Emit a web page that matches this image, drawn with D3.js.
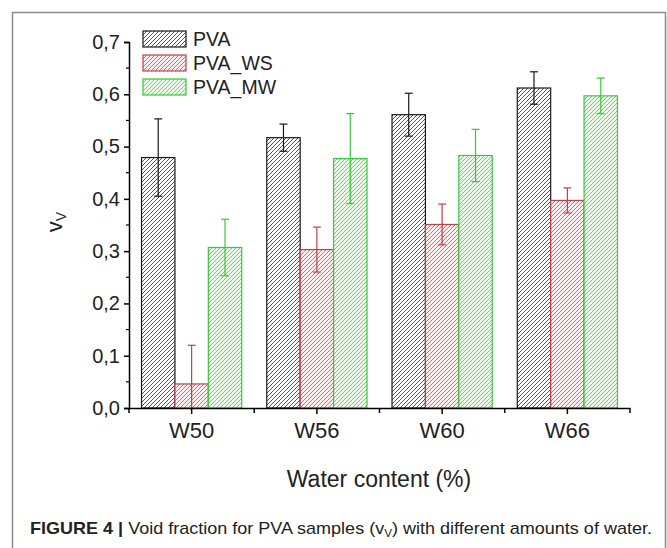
<!DOCTYPE html>
<html>
<head>
<meta charset="utf-8">
<style>
  body { margin: 0; background: #fff; }
  svg { display: block; font-family: "Liberation Sans", Arial, sans-serif; }
</style>
</head>
<body>
<div id="chart"></div>
<script src="https://cdn.jsdelivr.net/npm/d3@7"></script>
<script>
// data
var categories = ["W50", "W56", "W60", "W66"];
var series = ["PVA", "PVA_WS", "PVA_MW"];
var pvaValues = [0.479, 0.517, 0.561, 0.612];
var pvaErrors = [0.074, 0.026, 0.041, 0.031];
var wsValues = [0.046, 0.303, 0.351, 0.397];
var wsErrors = [0.074, 0.043, 0.039, 0.024];
var mwValues = [0.307, 0.477, 0.483, 0.597];
var mwErrors = [0.054, 0.086, 0.050, 0.034];
var yTicks = [0, 0.1, 0.2, 0.3, 0.4, 0.5, 0.6, 0.7];

var W = 667, H = 548;
var svg = d3.select("#chart").append("svg").attr("width", W).attr("height", H);

// outer frame of the figure
svg.append("rect").attr("x", 12.5).attr("y", 12.5).attr("width", 653).attr("height", 560)
  .attr("fill", "none").attr("stroke", "#8a8a8a").attr("stroke-width", 1.5);

var styles = {
  "PVA":    { line: "#2a2a2a", bg: "#ffffff", edge: "#1a1a1a" },
  "PVA_WS": { line: "#c9505c", bg: "#fbeeee", edge: "#d03848" },
  "PVA_MW": { line: "#5cc05c", bg: "#eaf8e8", edge: "#33cc33" }
};

// hatch patterns
var defs = svg.append("defs");
series.forEach(function (s, i) {
  var p = defs.append("pattern").attr("id", "hatch" + i)
    .attr("patternUnits", "userSpaceOnUse").attr("width", 4).attr("height", 4);
  p.append("rect").attr("width", 4).attr("height", 4).attr("fill", styles[s].bg);
  p.append("path").attr("d", "M-1,1 l2,-2 M0,4 l4,-4 M3,5 l2,-2")
    .attr("stroke", styles[s].line).attr("stroke-width", 0.8);
});

var x0 = d3.scaleBand().domain(categories).range([129, 630]).paddingInner(0.2).paddingOuter(0.1);
var x1 = d3.scaleBand().domain(series).range([0, x0.bandwidth()]);
var y = d3.scaleLinear().domain([0, 0.7]).range([408, 42]);

var rows = [];
categories.forEach(function (c, i) {
  rows.push({ cat: c, s: "PVA", v: pvaValues[i], e: pvaErrors[i] });
  rows.push({ cat: c, s: "PVA_WS", v: wsValues[i], e: wsErrors[i] });
  rows.push({ cat: c, s: "PVA_MW", v: mwValues[i], e: mwErrors[i] });
});

// bars
svg.append("g").selectAll("rect").data(rows).enter().append("rect")
  .attr("x", function (d) { return x0(d.cat) + x1(d.s); })
  .attr("y", function (d) { return y(d.v); })
  .attr("width", x1.bandwidth())
  .attr("height", function (d) { return y(0) - y(d.v); })
  .attr("fill", function (d) { return "url(#hatch" + series.indexOf(d.s) + ")"; })
  .attr("stroke", function (d) { return styles[d.s].edge; })
  .attr("stroke-width", 1.2);

// error bars
var eb = svg.append("g").selectAll("g").data(rows).enter().append("g")
  .attr("stroke", function (d) { return styles[d.s].edge; })
  .attr("stroke-width", 1.2);
function cx(d) { return x0(d.cat) + x1(d.s) + x1.bandwidth() / 2; }
eb.append("line")
  .attr("x1", cx).attr("x2", cx)
  .attr("y1", function (d) { return y(d.v + d.e); })
  .attr("y2", function (d) { return y(Math.max(0, d.v - d.e)); });
eb.append("line")
  .attr("x1", function (d) { return cx(d) - 4; }).attr("x2", function (d) { return cx(d) + 4; })
  .attr("y1", function (d) { return y(d.v + d.e); }).attr("y2", function (d) { return y(d.v + d.e); });
eb.filter(function (d) { return d.v - d.e > 0; }).append("line")
  .attr("x1", function (d) { return cx(d) - 4; }).attr("x2", function (d) { return cx(d) + 4; })
  .attr("y1", function (d) { return y(d.v - d.e); }).attr("y2", function (d) { return y(d.v - d.e); });

// y axis
var yAxis = svg.append("g").attr("transform", "translate(129,0)")
  .call(d3.axisLeft(y).tickValues(yTicks).tickSize(5).tickPadding(4)
    .tickFormat(function (d) { return d3.format(".1f")(d).replace(".", ","); }));
yAxis.selectAll("text").attr("font-size", 20).attr("fill", "#222").attr("font-family", "Liberation Sans, Arial, sans-serif");
yAxis.select(".domain").attr("stroke-width", 1.5);
yAxis.selectAll(".tick line").attr("stroke-width", 1.5);
yAxis.selectAll(".minor").data(yTicks.slice(0, -1)).enter().append("line")
  .attr("x1", -3).attr("x2", 0)
  .attr("y1", function (d) { return y(d + 0.05); }).attr("y2", function (d) { return y(d + 0.05); })
  .attr("stroke", "#000").attr("stroke-width", 1.2);

// x axis
var xAxis = svg.append("g").attr("transform", "translate(0,408)")
  .call(d3.axisBottom(x0).tickSize(6).tickSizeOuter(0).tickPadding(8));
xAxis.selectAll("text").attr("font-size", 22).attr("fill", "#222").attr("font-family", "Liberation Sans, Arial, sans-serif");
xAxis.select(".domain").attr("stroke-width", 1.5);
xAxis.selectAll(".tick line").attr("stroke-width", 1.5);
var bounds = d3.range(categories.length + 1).map(function (i) { return x0.range()[0] + i * x0.step(); });
xAxis.selectAll(".minor").data(bounds).enter().append("line")
  .attr("x1", function (d) { return d; }).attr("x2", function (d) { return d; })
  .attr("y1", 0).attr("y2", 5)
  .attr("stroke", "#000").attr("stroke-width", 1.5);

// axis titles
svg.append("text").attr("x", 379).attr("y", 487).attr("text-anchor", "middle")
  .attr("font-size", 23).attr("fill", "#222").text("Water content (%)");
var yl = svg.append("text").attr("transform", "translate(62,222) rotate(-90)")
  .attr("text-anchor", "middle").attr("font-size", 22).attr("fill", "#222");
yl.append("tspan").text("v");
yl.append("tspan").attr("font-size", 14).attr("dy", 4).text("V");

// legend
var lg = svg.append("g").selectAll("g").data(series).enter().append("g")
  .attr("transform", function (d, i) { return "translate(143," + (31 + i * 24) + ")"; });
lg.append("rect").attr("width", 43).attr("height", 16)
  .attr("fill", function (d, i) { return "url(#hatch" + i + ")"; })
  .attr("stroke", function (d) { return styles[d].edge; }).attr("stroke-width", 1.2);
lg.append("text").attr("x", 50).attr("y", 15).attr("font-size", 19.5).attr("fill", "#222")
  .text(function (d) { return d; });

// caption
var cap = svg.append("text").attr("x", 30).attr("y", 534).attr("font-size", 17).attr("fill", "#222")
  .attr("textLength", 622).attr("lengthAdjust", "spacingAndGlyphs");
cap.append("tspan").attr("font-weight", "bold").text("FIGURE 4 | ");
cap.append("tspan").text("Void fraction for PVA samples (v");
cap.append("tspan").attr("font-size", 11).attr("dy", 3).text("V");
cap.append("tspan").attr("dy", -3).text(") with different amounts of water.");
</script>
</body>
</html>
